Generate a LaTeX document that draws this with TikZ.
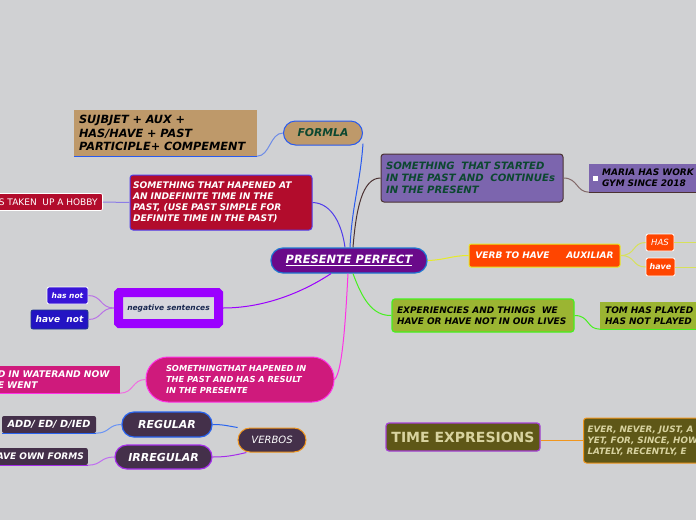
\documentclass[tikz,border=0pt]{standalone}
\usepackage{fontspec}
\setmainfont{DejaVu Sans}[BoldFont={DejaVu Sans Bold}, ItalicFont={DejaVu Sans Oblique}, BoldItalicFont={DejaVu Sans Bold Oblique}]

\definecolor{bgGrey}{RGB}{208,209,211}
\definecolor{ppPurple}{RGB}{106,10,138}
\definecolor{ppBlue}{RGB}{30,120,210}
\definecolor{tanBox}{RGB}{190,153,106}
\definecolor{formGreen}{RGB}{12,72,48}
\definecolor{linkBlue}{RGB}{40,90,240}
\definecolor{linkBlueL}{RGB}{110,140,230}
\definecolor{crimson}{RGB}{178,12,44}
\definecolor{indigoB}{RGB}{80,60,235}
\definecolor{indigoL}{RGB}{140,125,230}
\definecolor{lavBox}{RGB}{124,101,174}
\definecolor{brownL}{RGB}{75,50,50}
\definecolor{brownLL}{RGB}{130,105,105}
\definecolor{redOr}{RGB}{255,69,0}
\definecolor{yelB}{RGB}{230,235,40}
\definecolor{yelL}{RGB}{215,225,90}
\definecolor{oliveG}{RGB}{155,181,50}
\definecolor{limeB}{RGB}{70,240,30}
\definecolor{violetB}{RGB}{155,0,255}
\definecolor{violetL}{RGB}{185,115,230}
\definecolor{negFill}{RGB}{215,215,222}
\definecolor{navyT}{RGB}{25,40,80}
\definecolor{hasBlue}{RGB}{55,20,215}
\definecolor{haveBlue}{RGB}{35,20,195}
\definecolor{haveEdge}{RGB}{30,55,140}
\definecolor{magFill}{RGB}{207,26,124}
\definecolor{magB}{RGB}{255,50,230}
\definecolor{magL}{RGB}{240,110,225}
\definecolor{plumFill}{RGB}{68,48,74}
\definecolor{regBlue}{RGB}{40,100,240}
\definecolor{irrViolet}{RGB}{165,45,235}
\definecolor{orB}{RGB}{240,150,30}
\definecolor{oliveD}{RGB}{94,87,23}
\definecolor{khaki}{RGB}{216,211,160}
\definecolor{timeViolet}{RGB}{165,65,215}

\begin{document}
\begin{tikzpicture}[x=1pt, y=-1pt,
  box/.style={rounded corners=3pt, inner sep=0pt, align=left},
  pill/.style={rounded corners=12pt, inner sep=0pt, align=center},
  flat/.style={inner sep=0pt, align=left},
  bi/.style 2 args={font=\bfseries\itshape\fontsize{#1}{#2}\selectfont},
  ri/.style 2 args={font=\itshape\fontsize{#1}{#2}\selectfont},
  link/.style={line width=1pt},
  under/.style={line width=1.4pt},
]

% canvas
\useasboundingbox (0,0) rectangle (696,520);
\clip (0,0) rectangle (696,520);
\fill[bgGrey] (0,0) rectangle (696,520);

% Central topic
\node[pill, fill=ppPurple, draw=ppBlue, line width=1.2pt, text=white, minimum width=156pt, minimum height=25pt, bi={11.4}{13}] (central) at (349,260.5) {\underline{PRESENTE PERFECT}};

% Formula branch
\node[pill, fill=tanBox, draw=linkBlue, line width=1pt, text=formGreen, minimum width=79pt, minimum height=24pt, bi={10.8}{13}] (formla) at (323,133) {FORMLA};
\node[flat, fill=tanBox, text=black, text width=173pt, inner xsep=5pt, minimum height=46pt, bi={11.3}{13.5}] (sujbjet) at (165.5,133) {SUJBJET + AUX +\\HAS/HAVE + PAST\\PARTICIPLE+ COMPEMENT};

% Indefinite time branch
\node[box, fill=crimson, draw=indigoB, line width=1pt, text=white, text width=176pt, inner xsep=3pt, minimum height=55pt, bi={9.1}{11}] (indef) at (221,202.5) {SOMETHING THAT HAPENED AT\\AN INDEFINITE TIME IN THE\\PAST, (USE PAST SIMPLE FOR\\DEFINITE TIME IN THE PAST)};
\node[box, rounded corners=2pt, fill=crimson, draw=white, line width=0.8pt, text=white, inner xsep=5pt, minimum height=17pt, font=\fontsize{9}{10}\selectfont, anchor=east] (hobby) at (103,202) {S TAKEN\ \ UP A HOBBY};

% Started in the past branch
\node[box, fill=lavBox, draw=brownL, line width=1pt, text=formGreen, text width=172pt, inner xsep=5pt, minimum height=48pt, bi={10.1}{12}] (started) at (472,178) {SOMETHING\ \ THAT STARTED\\IN THE PAST AND\ \ CONTINUEs\\IN THE PRESENT};
\node[flat, fill=lavBox, text=black, text width=100pt, inner xsep=13pt, minimum height=28pt, bi={9}{11}, anchor=west] (maria) at (589,178) {MARIA HAS WORK\\GYM SINCE 2018};
\fill[white] (593,175.5) rectangle (598,180.5);

% Verb to have
\node[box, rounded corners=2pt, fill=redOr, draw=yelB, line width=1pt, text=white, minimum width=151pt, minimum height=23pt, bi={9}{11}] (verb) at (544.5,255.5) {VERB TO HAVE\hspace{17pt}AUXILIAR};
\node[box, rounded corners=2pt, fill=redOr, draw=white, line width=0.8pt, text=white, minimum width=28pt, minimum height=17pt, ri={8.5}{10}] (has) at (660,242.5) {HAS};
\node[box, rounded corners=2pt, fill=redOr, draw=white, line width=0.8pt, text=white, minimum width=29pt, minimum height=18pt, bi={8}{10}] (have) at (660.5,267) {have};
\coordinate (hasOut) at (700,242.5);
\coordinate (haveOut) at (700,267);

% Experiences branch
\node[box, fill=oliveG, draw=limeB, line width=1.2pt, text=black, text width=172pt, inner xsep=5pt, minimum height=33pt, bi={9}{11}] (exper) at (483,315.5) {EXPERIENCIES AND THINGS\ \ WE\\HAVE OR HAVE NOT IN OUR LIVES};
\node[flat, fill=oliveG, text=black, text width=110pt, inner xsep=5pt, minimum height=27pt, bi={9}{11}, anchor=west] (tom) at (600,315.5) {TOM HAS PLAYED\\HAS NOT PLAYED};

% Negative sentences
\node[box, rounded corners=1pt, fill=negFill, draw=violetB, line width=9pt, text=navyT, minimum width=100pt, minimum height=31pt, bi={7.5}{9}] (negative) at (168.5,308) {negative sentences};
\node[box, rounded corners=2pt, fill=hasBlue, draw=white, line width=0.8pt, text=white, minimum width=41pt, minimum height=17pt, bi={7.5}{9}] (hasnot) at (67.5,295.5) {has not};
\node[box, rounded corners=2pt, fill=haveBlue, draw=haveEdge, line width=0.8pt, text=white, minimum width=57pt, minimum height=19pt, bi={9}{11}] (havenot) at (59.5,319.5) {have\ \ not};

% Result in the present
\node[pill, rounded corners=22pt, fill=magFill, draw=magB, line width=1pt, text=white, align=left, text width=148pt, inner xsep=20pt, minimum height=45pt, bi={8.3}{10.7}] (result) at (240,379.5) {SOMETHINGTHAT HAPENED IN\\THE PAST AND HAS A RESULT\\IN THE PRESENTE};
\node[flat, fill=magFill, text=white, text width=119pt, inner xsep=3pt, minimum height=27pt, bi={9.2}{11}, anchor=east] (water) at (120,379.5) {D IN WATERAND NOW\\E WENT};

% Verbs
\node[pill, fill=plumFill, draw=orB, line width=1pt, text=white, minimum width=68pt, minimum height=24pt, ri={10}{12}] (verbos) at (272,440) {VERBOS};
\node[pill, fill=plumFill, draw=regBlue, line width=1.2pt, text=white, minimum width=90pt, minimum height=25pt, bi={11}{13}] (regular) at (167,424.5) {REGULAR};
\node[pill, fill=plumFill, draw=irrViolet, line width=1.2pt, text=white, minimum width=97pt, minimum height=24pt, bi={11}{13}] (irregular) at (163.5,457) {IRREGULAR};
\node[box, rounded corners=2pt, fill=plumFill, text=white, minimum width=94pt, minimum height=17pt, bi={9.8}{11}] (add) at (49,424.5) {ADD/ ED/ D/IED};
\node[box, rounded corners=2pt, fill=plumFill, text=white, inner xsep=4pt, minimum height=17pt, bi={9}{11}, anchor=east] (ownforms) at (88,456.5) {AVE OWN FORMS};

% Time expressions
\node[box, fill=oliveD, draw=timeViolet, line width=1.2pt, text=khaki, minimum width=154pt, minimum height=28pt, font=\bfseries\fontsize{14}{16}\selectfont] (time) at (463,437) {TIME EXPRESIONS};
\node[box, fill=oliveD, draw=orB, line width=1pt, text=khaki, text width=120pt, inner xsep=4pt, minimum height=45pt, bi={8.8}{11}, anchor=west] (ever) at (583,440.5) {EVER, NEVER, JUST, A\\YET, FOR, SINCE, HOW\\LATELY, RECENTLY, E};

% Links from the central topic
\draw[link, linkBlue] ([xshift=1pt]central.north) .. controls (352,205) and (360,185) .. (formla.-15);
\draw[link, indigoB] ([xshift=-4pt]central.north) .. controls (342,225) and (332,203) .. (indef.east);
\draw[link, brownL] ([xshift=4pt]central.north) .. controls (356,210) and (362,178) .. (started.west);
\draw[link, yelB] (central.east) .. controls (445,260) and (452,255.5) .. (verb.west);
\draw[link, limeB] ([xshift=4pt]central.south) .. controls (362,298) and (372,316) .. (exper.west);
\draw[link, violetB] ([xshift=-18pt]central.south) .. controls (300,294) and (262,308) .. (negative.east);
\draw[link, magB] ([xshift=-1pt]central.south) .. controls (346,310) and (343,372) .. (result.east);

% Links to the sub topics
\draw[link, linkBlueL] (formla.west) .. controls (270,133) and (270,156) .. (sujbjet.south east);
\draw[under, linkBlue] (sujbjet.south east) -- (sujbjet.south west);
\draw[link, indigoL] (indef.west) -- (hobby.east);
\draw[link, brownLL] (started.east) .. controls (578,178) and (576,192) .. (maria.south west);
\draw[under, brownL] (maria.south west) -- (maria.south east);
\draw[link, yelL] (verb.east) .. controls (636,255.5) and (632,242.5) .. (has.west);
\draw[link, yelL] (verb.east) .. controls (636,255.5) and (632,267) .. (have.west);
\draw[link, yelL] (has.east) -- (hasOut);
\draw[link, yelL] (have.east) -- (haveOut);
\draw[link, limeB] (exper.east) .. controls (590,315.5) and (586,329) .. (tom.south west);
\draw[under, limeB] (tom.south west) -- (tom.south east);
\draw[link, violetL] (negative.west) .. controls (100,308) and (102,295.5) .. (hasnot.east);
\draw[link, violetL] (negative.west) .. controls (100,308) and (102,319.5) .. (havenot.east);
\draw[link, magL] (result.west) .. controls (132,379.5) and (134,393) .. (water.south east);
\draw[under, magB] (water.south east) -- (water.south west);

% Verbs links
\draw[link, regBlue] (verbos.160) .. controls (228,426) and (224,424.5) .. (regular.east);
\draw[link, irrViolet] (verbos.-154) .. controls (232,456) and (224,457) .. (irregular.east);
\draw[link, regBlue!70!white] (regular.west) .. controls (108,424.5) and (110,433) .. (add.south east);
\draw[under, regBlue] (add.south east) -- (add.south west);
\draw[link, irrViolet!70!white] (irregular.west) .. controls (100,457) and (102,465) .. (ownforms.south east);
\draw[under, irrViolet] (ownforms.south east) -- (ownforms.south west);

% Time link
\draw[link, orB] (time.east |- ever.west) -- (ever.west);

\end{tikzpicture}
\end{document}
